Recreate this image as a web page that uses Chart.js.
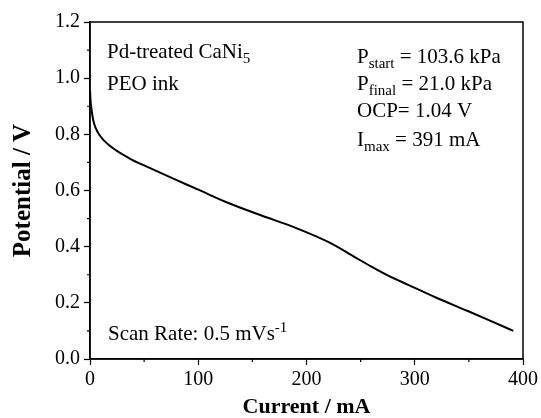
<!DOCTYPE html>
<html>
<head>
<meta charset="utf-8">
<script src="https://cdn.jsdelivr.net/npm/chart.js@4.4.1/dist/chart.umd.min.js"></script>
<style>
    body { margin: 0; background: #fff; }
    #wrap { width: 541px; height: 418px; }
</style>
</head>
<body>
<div id="wrap"><canvas id="polarization" width="541" height="418"></canvas></div>
<script>
// Curva de polarização
const current = [0, 0.5, 1.5, 3, 5, 9, 18, 37, 52, 77, 100, 125, 159, 190, 221, 245, 260, 276, 294, 320, 349, 370, 391];
const potential = [0.96, 0.92, 0.886, 0.85, 0.825, 0.796, 0.76, 0.713, 0.686, 0.642, 0.603, 0.56, 0.51, 0.467, 0.415, 0.362, 0.329, 0.296, 0.264, 0.218, 0.171, 0.136, 0.10];

const xTicks = [0, 100, 200, 300, 400];
const xMinor = [50, 150, 250, 350];
const yTicks = [0, 0.2, 0.4, 0.6, 0.8, 1.0, 1.2];
const yMinor = [0.1, 0.3, 0.5, 0.7, 0.9, 1.1];

const serif = '"Liberation Serif", "Times New Roman", serif';

// Moldura + ticks menores + textos
const decorPlugin = {
    id: 'decor',
    afterDraw(chart) {
        const ctx = chart.ctx;
        const area = chart.chartArea;
        const xs = chart.scales.x;
        const ys = chart.scales.y;

        ctx.save();
        ctx.strokeStyle = '#000';
        ctx.lineWidth = 1.5;
        ctx.strokeRect(area.left, area.top, area.right - area.left, area.bottom - area.top);

        ctx.lineWidth = 1.2;
        ctx.beginPath();
        xMinor.forEach(v => {
            const px = xs.getPixelForValue(v);
            ctx.moveTo(px, area.bottom);
            ctx.lineTo(px, area.bottom + 3);
        });
        yMinor.forEach(v => {
            const py = ys.getPixelForValue(v);
            ctx.moveTo(area.left, py);
            ctx.lineTo(area.left - 3, py);
        });
        ctx.stroke();

        // texto com sub/sobrescrito
        const draw = (x, y, parts) => {
            let cx = x;
            parts.forEach(p => {
                const size = p.s ? 15 : 21;
                const dy = p.s === 'sub' ? 5 : (p.s === 'sup' ? -8 : 0);
                ctx.font = size + 'px ' + serif;
                ctx.fillText(p.t, cx, y + dy);
                cx += ctx.measureText(p.t).width;
            });
        };
        ctx.fillStyle = '#000';
        ctx.textBaseline = 'alphabetic';
        ctx.textAlign = 'left';
        const L = area.left, T = area.top;
        draw(L + 17, T + 36, [{t: 'Pd-treated CaNi'}, {t: '5', s: 'sub'}]);
        draw(L + 17, T + 68, [{t: 'PEO ink'}]);
        draw(L + 267, T + 41, [{t: 'P'}, {t: 'start', s: 'sub'}, {t: ' = 103.6 kPa'}]);
        draw(L + 267, T + 68, [{t: 'P'}, {t: 'final', s: 'sub'}, {t: ' = 21.0 kPa'}]);
        draw(L + 267, T + 95, [{t: 'OCP= 1.04 V'}]);
        draw(L + 267, T + 124, [{t: 'I'}, {t: 'max', s: 'sub'}, {t: ' = 391 mA'}]);
        draw(L + 18, T + 318, [{t: 'Scan Rate: 0.5 mVs'}, {t: '-1', s: 'sup'}]);
        ctx.restore();
    }
};

new Chart(document.getElementById('polarization'), {
    type: 'line',
    data: {
        datasets: [{
            data: current.map((c, i) => ({x: c, y: potential[i]})),
            borderColor: '#000',
            borderWidth: 2,
            pointRadius: 0,
            cubicInterpolationMode: 'monotone',
            fill: false
        }]
    },
    options: {
        responsive: false,
        animation: false,
        layout: { padding: { top: 22, right: 16, left: 0, bottom: 0 } },
        plugins: { legend: { display: false }, tooltip: { enabled: false } },
        scales: {
            x: {
                type: 'linear',
                min: 0,
                max: 400,
                afterBuildTicks: s => { s.ticks = xTicks.map(v => ({value: v})); },
                afterFit: s => { s.height = 59; },
                ticks: {
                    color: '#000',
                    font: { family: serif, size: 20 },
                    padding: 3,
                    maxRotation: 0,
                    callback: v => String(v)
                },
                grid: { drawOnChartArea: false, tickLength: 6, tickColor: '#000', tickWidth: 1.2 },
                border: { color: '#000', width: 1.5 },
                title: {
                    display: true,
                    text: 'Current / mA',
                    color: '#000',
                    font: { family: serif, size: 22, weight: 'bold', lineHeight: 1 },
                    padding: { top: 0, bottom: 0 }
                }
            },
            y: {
                min: 0,
                max: 1.2,
                afterBuildTicks: s => { s.ticks = yTicks.map(v => ({value: v})); },
                afterFit: s => { s.width = 90; },
                ticks: {
                    color: '#000',
                    font: { family: serif, size: 20 },
                    padding: 4,
                    callback: v => Number(v).toFixed(1)
                },
                grid: { drawOnChartArea: false, tickLength: 6, tickColor: '#000', tickWidth: 1.2 },
                border: { color: '#000', width: 1.5 },
                title: {
                    display: true,
                    text: 'Potential / V',
                    color: '#000',
                    font: { family: serif, size: 25, weight: 'bold', lineHeight: 1 },
                    padding: { top: 11, bottom: 0 }
                }
            }
        }
    },
    plugins: [decorPlugin]
});
</script>
</body>
</html>
